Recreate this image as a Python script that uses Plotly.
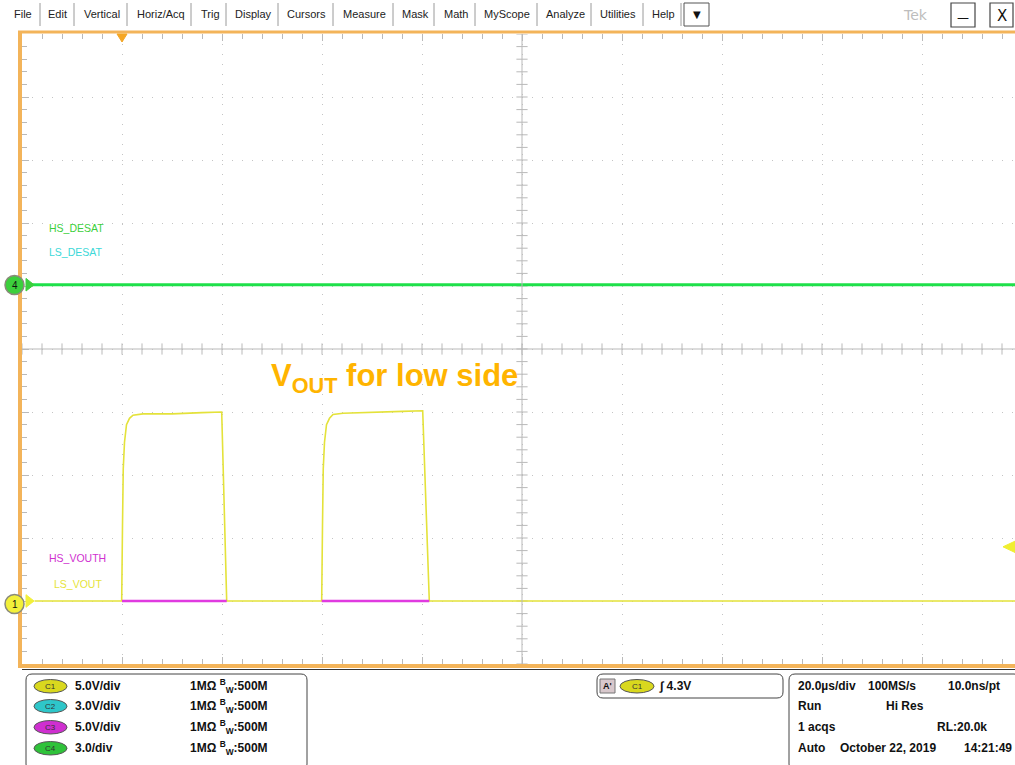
import numpy as np
import plotly.graph_objects as go

W, H = 1015, 765

# ---------------- data ----------------
# time in microseconds (20 us/div), trigger at t=0
ch1_t = [-17.5, -0.06, 0.1, 0.25, 0.5, 0.9, 1.5, 2.2, 4.2, 10.0, 16.0, 19.94, 20.94,
         39.94, 40.1, 40.25, 40.5, 40.9, 41.5, 42.2, 44.2, 50.0, 56.0, 60.14, 61.46, 178.6]
ch1_v = [0.0, 0.0, 6.0, 10.5, 12.6, 14.0, 14.5, 14.75, 14.85, 14.85, 14.95, 15.0, 0.0,
         0.0, 6.0, 10.5, 12.6, 14.0, 14.5, 14.8, 14.9, 15.0, 15.05, 15.1, 0.0, 0.0]
ch3_t = [0.0, 20.94, None, 39.94, 61.46]
ch3_v = [0.0, 0.0, None, 0.0, 0.0]
ch4_t = [-18.4, 178.6]
ch4_v = [0.0, 0.0]

ch_scale = {"C1": 5.0, "C2": 3.0, "C3": 5.0, "C4": 3.0}      # V/div
ch_pos = {"C1": -4.0, "C3": -4.0, "C4": 1.02}                 # div
trig_level = 4.3

menu_items = ["File", "Edit", "Vertical", "Horiz/Acq", "Trig", "Display", "Cursors",
              "Measure", "Mask", "Math", "MyScope", "Analyze", "Utilities", "Help"]
menu_x = [12, 46, 82, 135, 199, 233, 285, 341, 400, 442, 482, 544, 598, 650]
menu_sep = [40, 74, 127, 191, 226, 278, 333, 393, 434, 475, 537, 591, 643, 681]

ch_rows = ["C1", "C2", "C3", "C4"]
ch_text = ["5.0V/div", "3.0V/div", "5.0V/div", "3.0/div"]
ch_fill = ["#d9d81e", "#2ec6c9", "#cf2fd0", "#2fc23a"]

# ---------------- helpers ----------------
def px(x):
    return x / W

def py(y):
    return 1 - y / H

def to_div(v, ch):
    return [None if a is None else a / ch_scale[ch] + ch_pos[ch] for a in v]

def note(x, y, text, font, xanchor="center", yanchor="middle", yref="paper"):
    return dict(xref="paper", yref=yref, x=px(x), y=(py(y) if yref == "paper" else y),
                xanchor=xanchor, yanchor=yanchor, text=text, showarrow=False, font=font)

X0_PX, X1_PX = 22, 1015
Y0_PX, Y1_PX = 664, 34
T_LEFT = -20.0
T_RIGHT = T_LEFT + (X1_PX - X0_PX) / 5.0

fig = go.Figure()

GRID = "#b9b9b9"
# centre-line cross ticks
yt = np.arange(-5, 5.0001, 0.2)
fig.add_trace(go.Scatter(x=[80.0] * len(yt), y=yt, mode="markers",
                         marker=dict(symbol="line-ew", size=8, line=dict(color=GRID, width=1)),
                         hoverinfo="skip", showlegend=False))
xt = np.arange(-20, T_RIGHT, 4.0)
fig.add_trace(go.Scatter(x=xt, y=[0.0] * len(xt), mode="markers",
                         marker=dict(symbol="line-ns", size=8, line=dict(color=GRID, width=1)),
                         hoverinfo="skip", showlegend=False))

# traces
fig.add_trace(go.Scatter(x=ch4_t, y=to_div(ch4_v, "C4"), mode="lines",
                         line=dict(color="#1fe04a", width=3), hoverinfo="skip", showlegend=False))
fig.add_trace(go.Scatter(x=ch1_t, y=to_div(ch1_v, "C1"), mode="lines",
                         line=dict(color="#e4e23a", width=1.6), hoverinfo="skip", showlegend=False))
fig.add_trace(go.Scatter(x=ch3_t, y=to_div(ch3_v, "C3"), mode="lines",
                         line=dict(color="#e03ae0", width=2.6), hoverinfo="skip", showlegend=False))

shapes = []
ann = []

# centre lines
shapes.append(dict(type="line", xref="x", yref="paper", x0=80, x1=80, y0=py(Y0_PX), y1=py(Y1_PX),
                   line=dict(color=GRID, width=1)))
shapes.append(dict(type="line", xref="paper", yref="y", x0=px(X0_PX), x1=1, y0=0, y1=0,
                   line=dict(color=GRID, width=1)))

# orange frame
OR = "#f3b45a"
shapes.append(dict(type="line", xref="paper", yref="paper", x0=px(20), x1=px(20), y0=py(667), y1=py(31),
                   line=dict(color=OR, width=4)))
shapes.append(dict(type="line", xref="paper", yref="paper", x0=px(18), x1=1, y0=py(32), y1=py(32),
                   line=dict(color=OR, width=3)))
shapes.append(dict(type="line", xref="paper", yref="paper", x0=px(18), x1=1, y0=py(666), y1=py(666),
                   line=dict(color=OR, width=4)))
shapes.append(dict(type="line", xref="paper", yref="paper", x0=px(22), x1=1, y0=py(669.5), y1=py(669.5),
                   line=dict(color="#333333", width=1)))

# trigger position marker (top)
tx = 122
shapes.append(dict(type="path", xref="paper", yref="paper",
                   path=f"M {px(tx-5)} {py(34)} L {px(tx+5)} {py(34)} L {px(tx)} {py(42)} Z",
                   fillcolor="#f5a623", line=dict(color="#f5a623", width=1)))
# trigger level marker (right)
trig_div = trig_level / ch_scale["C1"] + ch_pos["C1"]
shapes.append(dict(type="path", xref="paper", yref="y",
                   path=f"M {px(1003)} {trig_div} L {px(1015)} {trig_div + 0.09} L {px(1015)} {trig_div - 0.09} Z",
                   fillcolor="#f0ee30", line=dict(color="#f0ee30", width=1)))

# channel markers on left
for ch, col in [("C4", "#3ccf3c"), ("C1", "#f2f03a")]:
    yy = ch_pos[ch]
    shapes.append(dict(type="path", xref="paper", yref="y",
                       path=f"M {px(26)} {yy + 0.1} L {px(34)} {yy} L {px(26)} {yy - 0.1} Z",
                       fillcolor=col, line=dict(color=col, width=1)))
for col, lab, ypx in [("#3ccf3c", "4", 285), ("#f2f03a", "1", 604)]:
    shapes.append(dict(type="circle", xref="paper", yref="paper", x0=px(5), x1=px(24),
                       y0=py(ypx + 9.5), y1=py(ypx - 9.5), fillcolor=col,
                       line=dict(color="#8a8a7a", width=1.5)))
    ann.append(note(14.5, ypx, lab, dict(family="Liberation Sans", size=10, color="#111111")))

# channel labels
for txt, col, x, y in [("HS_DESAT", "#3ccf3c", 47, 228), ("LS_DESAT", "#3cd8d8", 47, 252),
                       ("HS_VOUTH", "#d030d0", 47, 558), ("LS_VOUT", "#e6e43a", 52, 584)]:
    ann.append(note(x, y, txt, dict(family="Liberation Sans Narrow, Liberation Sans", size=10.5, color=col),
                    xanchor="left"))

# big annotation
ann.append(note(269, 378, "<b>V<sub>OUT</sub> for low side</b>",
                dict(family="Liberation Sans", size=31, color="#ffb400"), xanchor="left"))

# menu bar
for t, x in zip(menu_items, menu_x):
    ann.append(note(x, 14, t, dict(family="Liberation Sans", size=11, color="#222222"), xanchor="left"))
for s in menu_sep:
    shapes.append(dict(type="line", xref="paper", yref="paper", x0=px(s), x1=px(s), y0=py(3), y1=py(26),
                       line=dict(color="#9a9a9a", width=1)))
shapes.append(dict(type="rect", xref="paper", yref="paper", x0=px(684), x1=px(709), y0=py(26), y1=py(3),
                   line=dict(color="#555555", width=1), fillcolor="white"))
ann.append(note(696.5, 14.5, "▼", dict(family="DejaVu Sans", size=10, color="#111111")))
ann.append(note(915, 15, "Tek", dict(family="DejaVu Sans", size=14, color="#bdbdbd")))
for x0, x1, t in [(951, 975, "—"), (990, 1013, "X")]:
    shapes.append(dict(type="rect", xref="paper", yref="paper", x0=px(x0), x1=px(x1), y0=py(27), y1=py(3),
                       line=dict(color="#444444", width=1.2), fillcolor="white"))
    ann.append(note((x0 + x1) / 2, 16 if t == "X" else 18, t,
                    dict(family="DejaVu Sans", size=15 if t == "X" else 12, color="#111111")))

# bottom panels
def rbox(x0, y0, x1, y1, r=6):
    return dict(type="path", xref="paper", yref="paper", line=dict(color="#444444", width=1),
                path=(f"M {px(x0 + r)} {py(y0)} L {px(x1 - r)} {py(y0)} Q {px(x1)} {py(y0)} {px(x1)} {py(y0 + r)} "
                      f"L {px(x1)} {py(y1 - r)} Q {px(x1)} {py(y1)} {px(x1 - r)} {py(y1)} "
                      f"L {px(x0 + r)} {py(y1)} Q {px(x0)} {py(y1)} {px(x0)} {py(y1 - r)} "
                      f"L {px(x0)} {py(y0 + r)} Q {px(x0)} {py(y0)} {px(x0 + r)} {py(y0)} Z"))

shapes.append(rbox(26, 674, 307, 770))
shapes.append(rbox(597, 674, 783, 698))
shapes.append(rbox(789, 674, 1020, 770))

FB = dict(family="Liberation Sans", size=12, color="#111111")
row_y = [686, 706, 727, 748]
for ch, txt, col, y in zip(ch_rows, ch_text, ch_fill, row_y):
    shapes.append(dict(type="circle", xref="paper", yref="paper", x0=px(34), x1=px(67),
                       y0=py(y + 7), y1=py(y - 6.5), fillcolor=col, line=dict(color="#555555", width=1)))
    ann.append(note(50.5, y + 0.5, ch, dict(family="Liberation Sans", size=8, color="#333333")))
    ann.append(note(73, y, f"<b>{txt}</b>", FB, xanchor="left"))
    ann.append(note(188, y, "<b>1MΩ <sup>B</sup><sub>W</sub>:500M</b>", FB, xanchor="left"))

# trigger box
shapes.append(dict(type="rect", xref="paper", yref="paper", x0=px(600), x1=px(615), y0=py(693), y1=py(679),
                   fillcolor="#d8c8cc", line=dict(color="#777777", width=1)))
ann.append(note(607.5, 686, "<b>A'</b>", dict(family="Liberation Sans", size=9, color="#111111")))
shapes.append(dict(type="circle", xref="paper", yref="paper", x0=px(620), x1=px(654),
                   y0=py(693), y1=py(679.5), fillcolor=ch_fill[0], line=dict(color="#555555", width=1)))
ann.append(note(637, 686.5, "C1", dict(family="Liberation Sans", size=8, color="#333333")))
ann.append(note(657, 686, f"<b>∫ {trig_level}V</b>", FB, xanchor="left"))

# horizontal/acq box
for txt, x, y in [("20.0µs/div", 796, 686), ("100MS/s", 866, 686), ("10.0ns/pt", 946, 686),
                  ("Run", 796, 706), ("Hi Res", 884, 706),
                  ("1 acqs", 796, 727), ("RL:20.0k", 935, 727),
                  ("Auto", 796, 748), ("October 22, 2019", 838, 748), ("14:21:49", 962, 748)]:
    ann.append(note(x, y, f"<b>{txt}</b>", FB, xanchor="left"))

fig.update_layout(
    width=W, height=H, margin=dict(l=0, r=0, t=0, b=0),
    paper_bgcolor="white", plot_bgcolor="white",
    showlegend=False, shapes=shapes, annotations=ann, hovermode=False,
    xaxis=dict(domain=[px(X0_PX), 1], range=[T_LEFT, T_RIGHT], showline=False, zeroline=False,
               showgrid=True, dtick=20, tick0=0, gridcolor="#c4c4c4", griddash="1px,9px", gridwidth=1,
               ticks="inside", ticklen=7, tickcolor=GRID, mirror="ticks", showticklabels=False,
               minor=dict(dtick=4, tick0=0, ticks="inside", ticklen=5, tickcolor=GRID, showgrid=False)),
    yaxis=dict(domain=[py(Y0_PX), py(Y1_PX)], range=[-5, 5], showline=False, zeroline=False,
               showgrid=True, dtick=1, tick0=0, gridcolor="#c4c4c4", griddash="1px,9px", gridwidth=1,
               ticks="inside", ticklen=7, tickcolor=GRID, showticklabels=False,
               minor=dict(dtick=0.2, tick0=0, ticks="inside", ticklen=5, tickcolor=GRID, showgrid=False)),
)

fig.write_html("out.html", config={"displayModeBar": False},
               post_script="document.body.style.margin='0';document.body.style.overflow='hidden';")
